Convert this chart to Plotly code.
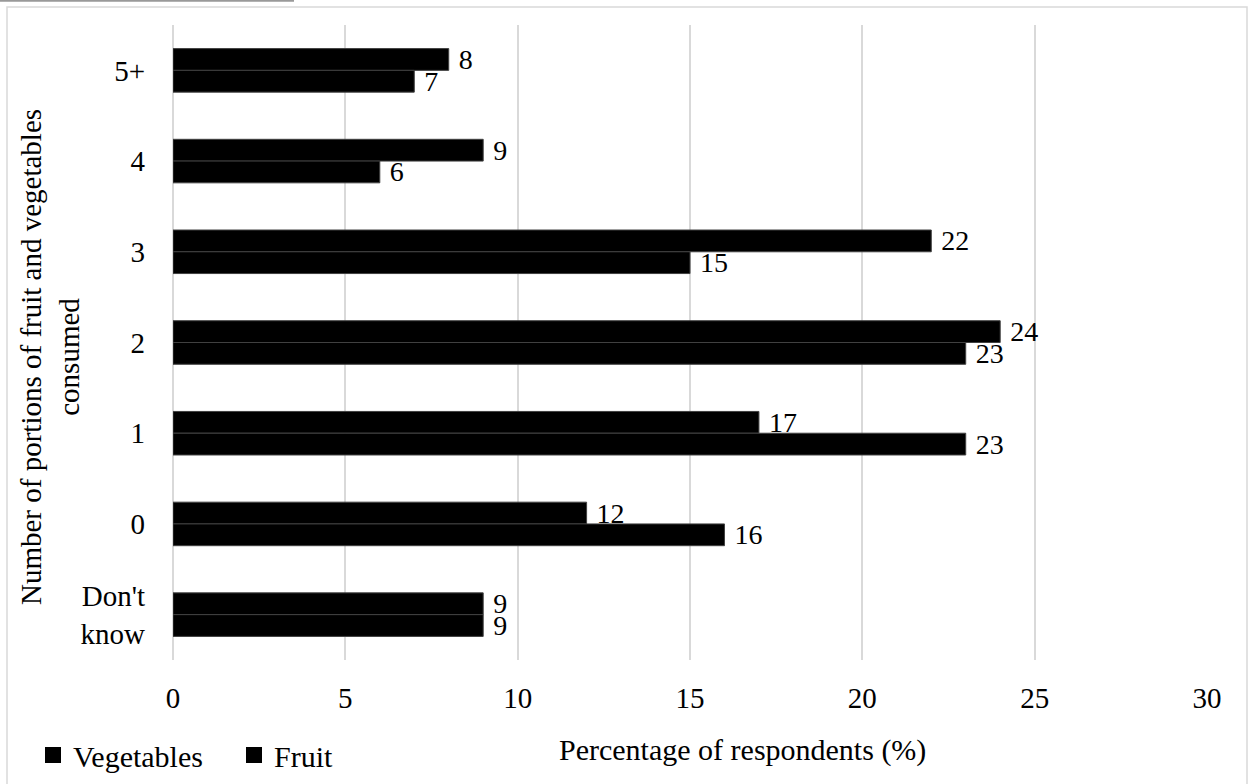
import plotly.graph_objects as go

categories = ["5+", "4", "3", "2", "1", "0", "Don't<br>know"]
vegetables = [8, 9, 22, 24, 17, 12, 9]
fruit = [7, 6, 15, 23, 23, 16, 9]
x_ticks = [0, 5, 10, 15, 20, 25, 30]
series = [("Vegetables", vegetables), ("Fruit", fruit)]

FONT = "Liberation Serif, Times New Roman, serif"
W, H = 1249, 784
L, R, T, B = 173, 42, 25, 124
PW, PH = W - L - R, H - T - B


def px_to_paper(x, y):
    return (x - L) / PW, (H - B - y) / PH


fig = go.Figure()
for name, vals in series:
    fig.add_trace(go.Bar(
        name=name, y=categories, x=vals, orientation="h",
        marker=dict(color="black", line=dict(color="#404040", width=1)),
        texttemplate=" %{x}", textposition="outside", constraintext="none",
        textfont=dict(family=FONT, size=28, color="black"),
        cliponaxis=False, showlegend=False,
    ))

# legend entries with larger square swatches
for name, _ in series:
    fig.add_trace(go.Scatter(
        name=name, x=[None], y=[None], mode="markers",
        marker=dict(symbol="square", size=19, color="black"),
        showlegend=True,
    ))

shapes = []
x0, y0 = px_to_paper(7, 7)
x1, y1 = px_to_paper(1247, 800)
shapes.append(dict(type="rect", xref="paper", yref="paper", x0=x0, y0=y1, x1=x1, y1=y0,
                   line=dict(color="#d9d9d9", width=1.5), fillcolor="rgba(0,0,0,0)", layer="below"))
a0, b0 = px_to_paper(0, 0.8)
a1, _ = px_to_paper(294, 0.8)
shapes.append(dict(type="line", xref="paper", yref="paper", x0=a0, y0=b0, x1=a1, y1=b0,
                   line=dict(color="#999999", width=2)))

tx, ty = px_to_paper(50, 357)
ax, ay = px_to_paper(742, 750)
annotations = [
    dict(text="Number of portions of fruit and vegetables<br>consumed", xref="paper", yref="paper",
         x=tx, y=ty, textangle=-90, showarrow=False, xanchor="center", yanchor="middle",
         font=dict(family=FONT, size=29, color="black")),
    dict(text="Percentage of respondents (%)", xref="paper", yref="paper",
         x=ax, y=ay, showarrow=False, xanchor="center", yanchor="middle",
         font=dict(family=FONT, size=30, color="black")),
]

lx, ly = px_to_paper(33, 755)

fig.update_layout(
    width=W, height=H,
    margin=dict(l=L, r=R, t=T, b=B, autoexpand=False),
    paper_bgcolor="white", plot_bgcolor="white",
    barmode="group", bargap=0.52, bargroupgap=0,
    font=dict(family=FONT, size=29, color="black"),
    legend=dict(orientation="h", x=lx, y=ly, xanchor="left", yanchor="middle",
                font=dict(family=FONT, size=30, color="black"),
                itemwidth=30, entrywidth=156, entrywidthmode="pixels",
                traceorder="normal", bgcolor="rgba(0,0,0,0)"),
    xaxis=dict(range=[0, 30], tickvals=x_ticks, showgrid=True, gridcolor="#d9d9d9", gridwidth=1.5,
               zeroline=True, zerolinecolor="#d9d9d9", zerolinewidth=1.5, showline=False,
               ticks="", ticklabelstandoff=18, tickfont=dict(family=FONT, size=29)),
    yaxis=dict(type="category", autorange="reversed", showgrid=False, zeroline=False,
               showline=False, ticks="", ticklabelstandoff=27,
               tickfont=dict(family=FONT, size=29)),
    shapes=shapes,
    annotations=annotations,
)

fig.write_html("out.html")
